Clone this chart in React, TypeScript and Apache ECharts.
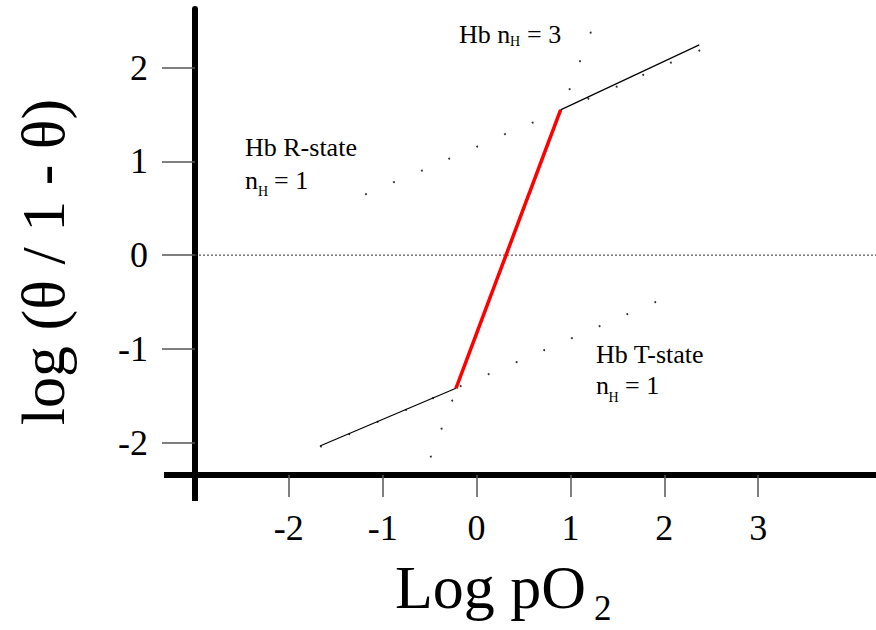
import React, { useEffect, useRef } from "react";
import * as echarts from "echarts";

const FONT = "'Liberation Serif', 'Times New Roman', serif";

// axis range and ticks
const xMin = -3;
const xMax = 4.255;
const yMin = -2.345;
const yMax = 2.625;
const xTicks = [-2, -1, 0, 1, 2, 3];
const yTicks = [-2, -1, 0, 1, 2];

// Hill curve segments (log pO2, log(θ/1-θ))
const hillLowerX = [-1.669, -0.22];
const hillLowerY = [-2.035, -1.42];
const hillMidX = [-0.22, 0.895];
const hillMidY = [-1.42, 1.549];
const hillUpperX = [0.895, 2.372];
const hillUpperY = [1.549, 2.242];

// R-state (nH = 1) reference points
const rStateX = [-1.179, -0.881, -0.583, -0.292, 0.006, 0.302, 0.597, 0.895, 1.191, 1.492, 1.775, 2.07, 2.372];
const rStateY = [0.65, 0.778, 0.901, 1.029, 1.157, 1.29, 1.413, 1.538, 1.668, 1.797, 1.922, 2.053, 2.181];

// T-state (nH = 1) reference points
const tStateX = [-1.659, -1.357, -1.055, -0.753, -0.465, -0.17, 0.128, 0.426, 0.72, 1.015, 1.31, 1.605, 1.903];
const tStateY = [-2.041, -1.91, -1.779, -1.651, -1.526, -1.398, -1.27, -1.142, -1.014, -0.886, -0.758, -0.63, -0.502];

// nH = 3 extension points
const n3X = [-0.487, -0.373, -0.26, 0.991, 1.101, 1.215];
const n3Y = [-2.149, -1.851, -1.552, 1.77, 2.068, 2.373];

const zeroLineX = [xMin, xMax];
const zeroLineY = [0, 0];

const zip = (xs: number[], ys: number[]) => xs.map((x, i) => [x, ys[i]]);

function txt(x: number, y: number, text: string, size: number, extra: any = {}) {
  return {
    type: "text",
    x,
    y,
    ...extra,
    style: {
      text,
      fontFamily: FONT,
      fontSize: size,
      fill: "#000",
      textAlign: "left",
      textVerticalAlign: "middle",
      ...(extra.style || {}),
    },
  };
}

export default function App() {
  const ref = useRef<HTMLDivElement>(null);
  useEffect(() => {
    document.body.style.margin = "0";
    const chart = echarts.init(ref.current!, undefined, { renderer: "svg" });
    const dotSeries = (name: string, xs: number[], ys: number[]) => ({
      name,
      type: "scatter",
      data: zip(xs, ys),
      symbol: "circle",
      symbolSize: 2,
      itemStyle: { color: "#000" },
      z: 2,
      silent: true,
    });
    const lineSeries = (name: string, xs: number[], ys: number[], color: string, width: number, type: any = "solid") => ({
      name,
      type: "line",
      data: zip(xs, ys),
      showSymbol: false,
      symbol: "none",
      lineStyle: { color, width, type },
      z: 3,
      silent: true,
    });

    const graphics: any[] = [
      // axis extensions beyond the crossing point
      { type: "line", shape: { x1: 164, y1: 475, x2: 198, y2: 475 }, style: { stroke: "#000", lineWidth: 6 } },
      { type: "line", shape: { x1: 195, y1: 472, x2: 195, y2: 501 }, style: { stroke: "#000", lineWidth: 6 } },
      // axis titles
      txt(43, 262, "log (θ / 1 - θ)", 62, { rotation: Math.PI / 2, style: { textAlign: "center" } }),
      txt(395, 587, "Log pO", 62),
      txt(594, 608, "2", 35),
      // Hb nH = 3
      txt(459, 34, "Hb n", 26),
      txt(510, 41, "H", 14),
      txt(527, 34, "= 3", 26),
      // Hb R-state
      txt(245, 147, "Hb R-state", 26),
      txt(245, 180, "n", 26),
      txt(258, 191.5, "H", 14),
      txt(274, 180, "= 1", 26),
      // Hb T-state
      txt(596, 354, "Hb T-state", 26),
      txt(596, 385.5, "n", 26),
      txt(608.5, 397, "H", 14),
      txt(625, 385.5, "= 1", 26),
    ];

    chart.setOption({
      animation: false,
      grid: { left: 195, top: 9, right: 0, bottom: 155, containLabel: false },
      xAxis: {
        type: "value",
        min: xMin,
        max: xMax,
        position: "bottom",
        axisLine: { show: true, onZero: false, lineStyle: { color: "#000", width: 6 } },
        axisTick: { show: true, customValues: xTicks, length: 22, lineStyle: { color: "#555", width: 1.5 } },
        axisLabel: {
          show: true,
          customValues: xTicks,
          margin: 35,
          fontFamily: FONT,
          fontSize: 36,
          color: "#000",
          formatter: (v: number) => String(v),
        },
        splitLine: { show: false },
      },
      yAxis: {
        type: "value",
        min: yMin,
        max: yMax,
        position: "left",
        axisLine: { show: true, onZero: false, lineStyle: { color: "#000", width: 6 } },
        axisTick: { show: true, customValues: yTicks, length: 33, lineStyle: { color: "#555", width: 1.5 } },
        axisLabel: {
          show: true,
          customValues: yTicks,
          margin: 47,
          fontFamily: FONT,
          fontSize: 36,
          color: "#000",
          formatter: (v: number) => String(v),
        },
        splitLine: { show: false },
      },
      series: [
        lineSeries("zero", zeroLineX, zeroLineY, "#333", 1, [2, 2]),
        dotSeries("R-state", rStateX, rStateY),
        dotSeries("T-state", tStateX, tStateY),
        dotSeries("nH3", n3X, n3Y),
        lineSeries("lower", hillLowerX, hillLowerY, "#000", 1.2),
        lineSeries("middle", hillMidX, hillMidY, "#ff0000", 3.5),
        lineSeries("upper", hillUpperX, hillUpperY, "#000", 1.2),
      ],
      graphic: graphics,
    });
    return () => chart.dispose();
  }, []);
  return <div ref={ref} style={{ position: "fixed", left: 0, top: 0, width: 876, height: 630, background: "#fff" }} />;
}
